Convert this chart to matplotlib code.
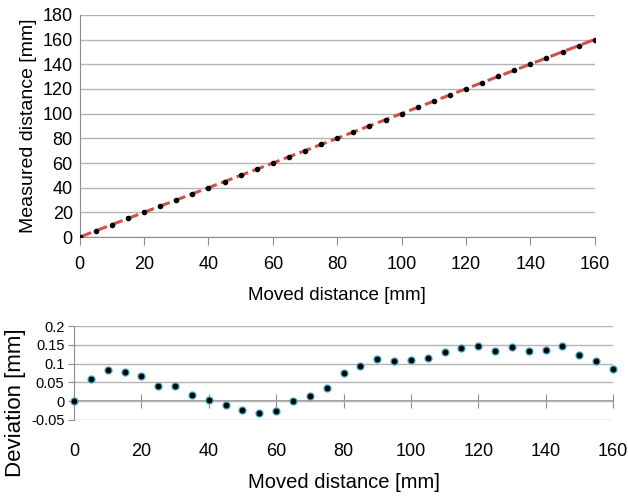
import matplotlib
matplotlib.use("Agg")
import matplotlib.pyplot as plt
import numpy as np

plt.rcParams["font.family"] = ["Liberation Sans", "DejaVu Sans"]

moved = [0, 5, 10, 15, 20, 25, 30, 35, 40, 45, 50, 55, 60, 65, 70, 75, 80,
         85, 90, 95, 100, 105, 110, 115, 120, 125, 130, 135, 140, 145, 150, 155, 160]
deviation = [0.0, 0.059, 0.084, 0.079, 0.067, 0.041, 0.039, 0.016, 0.004, -0.010,
             -0.024, -0.033, -0.027, 0.0, 0.013, 0.035, 0.074, 0.093, 0.113, 0.108,
             0.109, 0.115, 0.130, 0.141, 0.148, 0.135, 0.144, 0.134, 0.137, 0.146,
             0.123, 0.107, 0.086]
measured = [m + d for m, d in zip(moved, deviation)]

x_ticks = [0, 20, 40, 60, 80, 100, 120, 140, 160]
top_y_ticks = [0, 20, 40, 60, 80, 100, 120, 140, 160, 180]
dev_y_ticks = [-0.05, 0, 0.05, 0.1, 0.15, 0.2]
dev_y_labels = ["-0.05", "0", "0.05", "0.1", "0.15", "0.2"]

grid_col = "#b4b4b4"
axis_col = "#8c8c8c"

fig = plt.figure(figsize=(6.28, 4.98), dpi=100)

# top chart: measured vs moved
ax1 = fig.add_axes([0.127, 0.524, 0.820, 0.446])
ax1.plot(moved, measured, color="#d0504c", linewidth=2.2, dashes=(4, 1.5), zorder=2)
ax1.plot(moved, measured, "o", color="black", markersize=3, zorder=3)
ax1.set_xlim(0, 160)
ax1.set_ylim(0, 180)
ax1.set_xticks(x_ticks)
ax1.set_yticks(top_y_ticks)
ax1.grid(axis="y", color=grid_col, linewidth=1)
ax1.set_axisbelow(True)
for s in ["top", "right"]:
    ax1.spines[s].set_visible(False)
for s in ["left", "bottom"]:
    ax1.spines[s].set_color(axis_col)
ax1.tick_params(axis="x", direction="out", length=6, color=axis_col, labelsize=13, pad=8)
ax1.tick_params(axis="y", length=0, labelsize=13, pad=5)
ax1.set_xlabel("Moved distance [mm]", fontsize=13.5, labelpad=10)
ax1.set_ylabel("Measured distance [mm]", fontsize=14, labelpad=4)

# bottom chart: deviation
ax2 = fig.add_axes([0.118, 0.157, 0.858, 0.188])
ax2.plot(moved, deviation, "o", color="black", markersize=5,
         markeredgecolor="#3aa6c0", markeredgewidth=0.9, zorder=3, clip_on=False)
ax2.set_xlim(0, 160)
ax2.set_ylim(-0.05, 0.2)
ax2.set_xticks(x_ticks)
ax2.set_yticks(dev_y_ticks)
ax2.set_yticklabels(dev_y_labels)
ax2.grid(axis="y", color=grid_col, linewidth=1)
ax2.set_axisbelow(True)
for s in ["top", "right", "bottom"]:
    ax2.spines[s].set_visible(False)
ax2.spines["left"].set_color(axis_col)
ax2.tick_params(axis="x", length=0, labelsize=13, pad=17)
ax2.tick_params(axis="y", direction="out", length=4, color=axis_col, labelsize=10.5, pad=3)
ax2.set_xlabel("Moved distance [mm]", fontsize=14.5, labelpad=9)
ax2.set_ylabel("Deviation [mm]", fontsize=16)
ax2.yaxis.set_label_coords(-0.09, 0.18)

# zero line with crossing ticks
zero_frac = (0 - (-0.05)) / (0.2 - (-0.05))
sec = ax2.secondary_xaxis(zero_frac)
sec.set_xticks(x_ticks)
sec.tick_params(direction="inout", length=10, color=axis_col, labelbottom=False, labeltop=False)
sec.spines["bottom"].set_color(axis_col)
sec.spines["bottom"].set_linewidth(1.2)

fig.savefig("out.png", dpi=100)
